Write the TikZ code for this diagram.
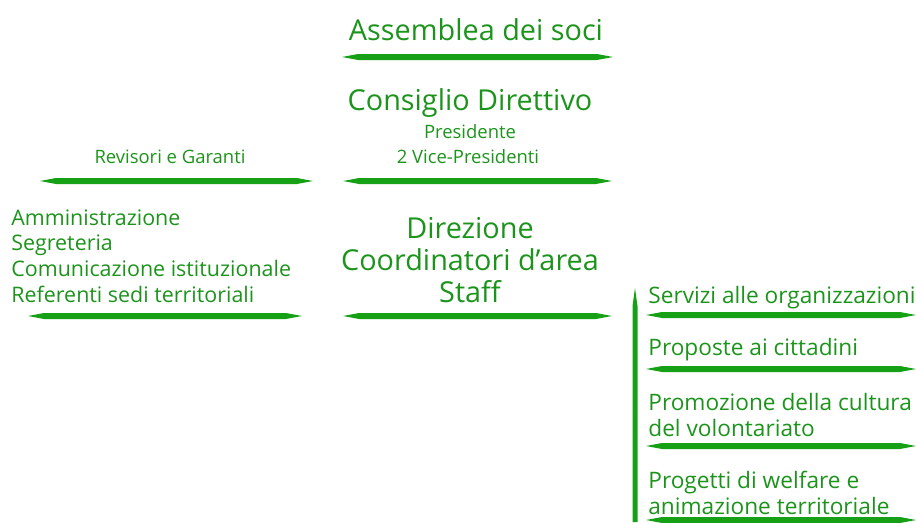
\documentclass[tikz,border=0pt]{standalone}
\usepackage{fontspec}
\setmainfont{Open Sans}
\usepackage{tikz}
\definecolor{inkgreen}{RGB}{28,148,28}
\definecolor{brushgreen}{RGB}{22,160,22}

\begin{document}
\begin{tikzpicture}[x=0.02cm,y=-0.02cm]
				\useasboundingbox (0,0) rectangle (916,522);
				\begin{scope}[every node/.style = {text=inkgreen, inner sep=0pt, align=center},
					big/.style = {font=\fontsize{16.4}{19}\selectfont},
					small/.style = {font=\fontsize{10.5}{12}\selectfont},
					list/.style = {font=\fontsize{12.2}{14.6}\selectfont, align=left, anchor=west},
					area/.style = {font=\fontsize{12.9}{14.6}\selectfont, align=left, anchor=west}]
					\node[big] (asm) at (476,30) {Assemblea dei soci};
					\node[big] (cd) at (470,103) {Consiglio Direttivo};
					\node[small] (pres) at (470,132) {Presidente};
					\node[small] (vice) at (468,157) {2 Vice-Presidenti};
					\node[small] (rev) at (170,157) {Revisori e Garanti};
					\node[list] (staffl) at (11,256) {Amministrazione\\Segreteria\\Comunicazione istituzionale\\Referenti sedi territoriali};
					\node[big, font=\fontsize{16.4}{18}\selectfont] (dir) at (470,260) {Direzione\\Coordinatori d’area\\Staff};
					\node[area] (serv) at (648,298) {Servizi alle organizzazioni};
					\node[area] (prop) at (648,350) {Proposte ai cittadini};
					\node[area] (prom) at (648,415) {Promozione della cultura\\del volontariato};
					\node[area] (prog) at (648,493) {Progetti di welfare e\\animazione territoriale};
				\end{scope}
				\begin{scope}[every path/.style = {fill=brushgreen}]
					\foreach \xa/\xb/\yy in {342/613/57, 343/612/181, 40/313/181, 28/302/316,
						343/612/316, 646/916/315, 646/916/369, 646/916/446, 646/916/520}
						\fill (\xa,\yy) -- (\xa+16,\yy-3) -- (\xb-16,\yy-3) -- (\xb,\yy)
							-- (\xb-16,\yy+3) -- (\xa+16,\yy+3) -- cycle;
					\fill (635,288) -- (637.5,306) -- (637.5,522) -- (632.5,522) -- (632.5,306) -- cycle;
				\end{scope}
			\end{tikzpicture}
\end{document}
